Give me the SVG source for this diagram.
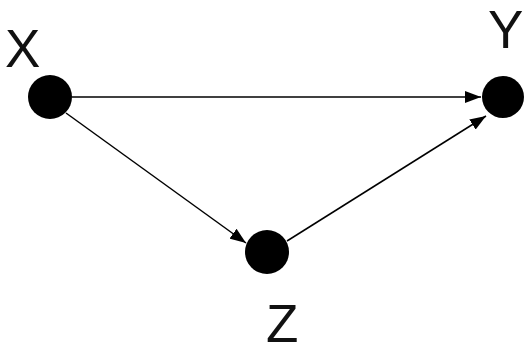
<svg xmlns="http://www.w3.org/2000/svg" width="525" height="354" viewBox="0 0 525 354">
<defs>
<marker id="ah" markerWidth="16" markerHeight="12" refX="16" refY="6" orient="auto" markerUnits="userSpaceOnUse">
<path d="M0,0 L16,6 L0,12 Z" fill="#000"/>
</marker>
<style>
.n{fill:#000}
.l{font-family:"Liberation Sans",Arial,sans-serif;font-size:53px;fill:#111}
.e{stroke:#000;stroke-width:1.5;fill:none;marker-end:url(#ah)}
</style>
</defs>
<rect width="525" height="354" fill="#fff"/>
<g id="connectors">
<line class="e" x1="72" y1="97" x2="481" y2="97"/>
<line class="e" x1="66" y1="113" x2="246" y2="243"/>
<line class="e" x1="287" y1="241" x2="486" y2="116"/>
</g>
<g id="X"><circle class="n" cx="50" cy="97" r="22"/><text class="l" x="5" y="67">X</text></g>
<g id="Y"><circle class="n" cx="503" cy="97" r="21"/><text class="l" x="488" y="48">Y</text></g>
<g id="Z"><circle class="n" cx="267" cy="252" r="22"/><text class="l" x="266" y="342">Z</text></g>
</svg>
